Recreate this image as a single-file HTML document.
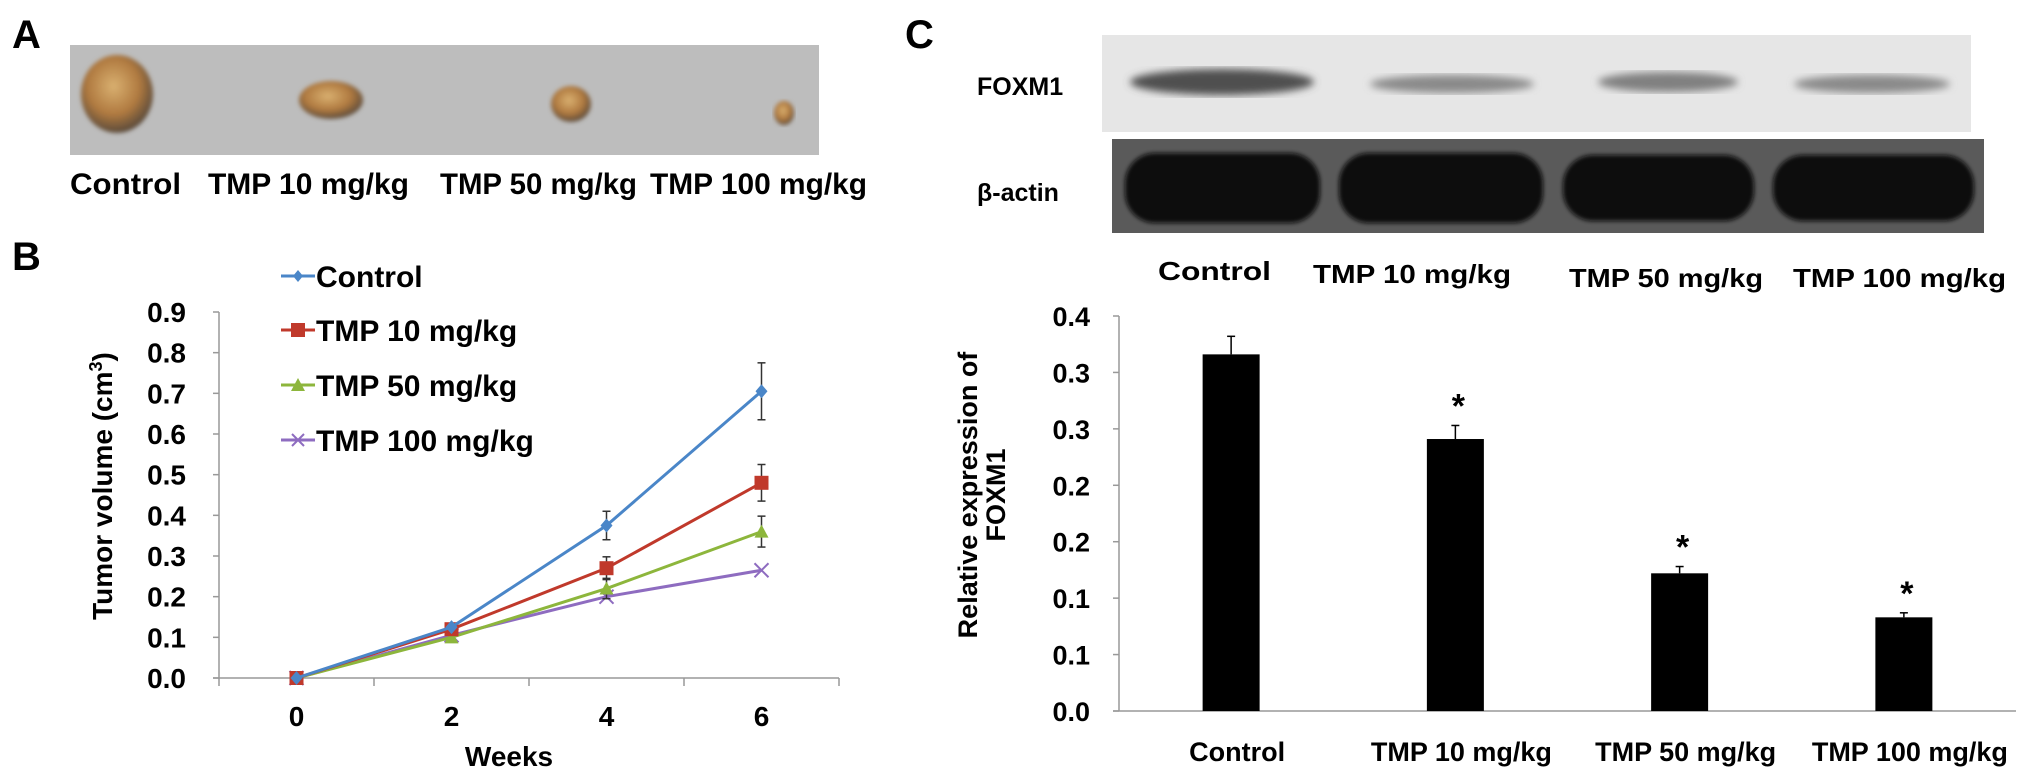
<!DOCTYPE html>
<html><head><meta charset="utf-8"><style>
html,body{margin:0;padding:0;background:#fff;}
svg{display:block;font-family:"Liberation Sans",Arial,sans-serif;font-weight:bold;}
</style></head><body>
<svg id="fig" width="2031" height="780" viewBox="0 0 2031 780" xmlns="http://www.w3.org/2000/svg">
<defs>
<radialGradient id="tum" cx="45%" cy="40%" r="60%"><stop offset="0" stop-color="#d9b070"/><stop offset="0.6" stop-color="#b07a40"/><stop offset="1" stop-color="#5a4a3a"/></radialGradient>
<filter id="blur"><feGaussianBlur stdDeviation="4"/></filter>
<filter id="blur2"><feGaussianBlur stdDeviation="2"/></filter>
</defs>
<!-- Panel A -->
<text x="12" y="48" font-size="40">A</text>
<g>
<rect x="70" y="45" width="749" height="110" fill="#bdbdbd"/>
<ellipse cx="117" cy="94" rx="36" ry="39" fill="url(#tum)" filter="url(#blur2)"/>
<ellipse cx="331" cy="100" rx="32" ry="19" fill="url(#tum)" filter="url(#blur2)"/>
<ellipse cx="571" cy="104" rx="20" ry="18" fill="url(#tum)" filter="url(#blur2)"/>
<ellipse cx="784" cy="113" rx="10" ry="12" fill="url(#tum)" filter="url(#blur2)"/>
</g>
<g font-size="30">
<text x="70" y="194" textLength="111" lengthAdjust="spacingAndGlyphs">Control</text>
<text x="208" y="194" textLength="201" lengthAdjust="spacingAndGlyphs">TMP 10 mg/kg</text>
<text x="440" y="194" textLength="197" lengthAdjust="spacingAndGlyphs">TMP 50 mg/kg</text>
<text x="650" y="194" textLength="217" lengthAdjust="spacingAndGlyphs">TMP 100 mg/kg</text>
</g>
<!-- Panel B -->
<text x="12" y="270" font-size="40">B</text>
<g id="lineChart"></g>
<!-- Panel C -->
<text x="905" y="48" font-size="40">C</text>
<text x="977" y="95" font-size="25">FOXM1</text>
<text x="977" y="201" font-size="25">β-actin</text>
<g>
<rect x="1102" y="35" width="869" height="97" fill="#e6e6e6"/>
<ellipse cx="1222" cy="82" rx="92" ry="13" fill="#505050" filter="url(#blur)"/>
<ellipse cx="1452" cy="84" rx="82" ry="9" fill="#8a8a8a" filter="url(#blur)"/>
<ellipse cx="1668" cy="82" rx="70" ry="10" fill="#808080" filter="url(#blur)"/>
<ellipse cx="1872" cy="84" rx="78" ry="9" fill="#8a8a8a" filter="url(#blur)"/>
</g>
<g>
<rect x="1112" y="139" width="872" height="94" fill="#5a5a5a"/>
<rect x="1125" y="153" width="195" height="70" rx="30" fill="#0a0a0a" filter="url(#blur2)"/>
<rect x="1339" y="153" width="204" height="70" rx="30" fill="#0a0a0a" filter="url(#blur2)"/>
<rect x="1563" y="155" width="191" height="66" rx="30" fill="#0a0a0a" filter="url(#blur2)"/>
<rect x="1773" y="155" width="201" height="66" rx="30" fill="#0a0a0a" filter="url(#blur2)"/>
</g>
<g font-size="26">
<text x="1158" y="280" textLength="113" lengthAdjust="spacingAndGlyphs">Control</text>
<text x="1313" y="283" textLength="198" lengthAdjust="spacingAndGlyphs">TMP 10 mg/kg</text>
<text x="1569" y="287" textLength="194" lengthAdjust="spacingAndGlyphs">TMP 50 mg/kg</text>
<text x="1793" y="287" textLength="213" lengthAdjust="spacingAndGlyphs">TMP 100 mg/kg</text>
</g>
<g id="barChart"></g>
</svg>
<script>
// ---- Line chart data (panel B) ----
const weeks = ["0", "2", "4", "6"];
const yTicksB = ["0.0","0.1","0.2","0.3","0.4","0.5","0.6","0.7","0.8","0.9"];
const seriesNames = ["Control", "TMP 10 mg/kg", "TMP 50 mg/kg", "TMP 100 mg/kg"];
const controlVals = [0, 0.125, 0.375, 0.705];
const tmp10Vals = [0, 0.12, 0.27, 0.48];
const tmp50Vals = [0, 0.10, 0.22, 0.36];
const tmp100Vals = [0, 0.105, 0.20, 0.265];
const controlErr = [0, 0.005, 0.035, 0.07];
const tmp10Err = [0, 0.005, 0.028, 0.045];
const tmp50Err = [0, 0.004, 0.025, 0.038];
const tmp100Err = [0, 0, 0, 0];

// ---- Bar chart data (panel C) ----
const barCats = ["Control", "TMP 10 mg/kg", "TMP 50 mg/kg", "TMP 100 mg/kg"];
const barVals = [0.316, 0.241, 0.122, 0.083];
const barErr = [0.016, 0.012, 0.006, 0.004];
const barSig = [false, true, true, true];
const yTickValsC = [0, 0.05, 0.1, 0.15, 0.2, 0.25, 0.3, 0.35];
const yTickLabelsC = ["0.0","0.1","0.1","0.2","0.2","0.3","0.3","0.4"];

const NS = "http://www.w3.org/2000/svg";
function mk(parent, tag, attrs, text) {
  const e = document.createElementNS(NS, tag);
  for (const k in attrs) e.setAttribute(k, attrs[k]);
  if (text !== undefined) e.textContent = text;
  parent.appendChild(e);
  return e;
}

// Panel B
(function () {
  const g = document.getElementById("lineChart");
  const x0 = 219, x1 = 839, yBase = 678, yTop = 312;
  const yMax = 0.9;
  const ys = v => yBase - v / yMax * (yBase - yTop);
  const bw = (x1 - x0) / weeks.length;
  const xs = i => x0 + bw * (i + 0.5);
  const ax = mk(g, "line", { x1: x0, y1: yTop, x2: x0, y2: yBase, stroke: "#999", "stroke-width": 1.5 });
  
  
  const axx = mk(g, "line", { x1: x0 - 6, y1: yBase, x2: x1, y2: yBase, stroke: "#999", "stroke-width": 1.5 });
  
  
  yTicksB.forEach((t, i) => {
    const y = ys(parseFloat(t));
    mk(g, "line", { x1: x0 - 6, y1: y, x2: x0, y2: y, stroke: "#999", "stroke-width": 1.5 });
    const lb = mk(g, "text", { x: 186, y: y + 10, "font-size": 28, "text-anchor": "end" }, t);
    
    
  });
  for (let i = 0; i <= weeks.length; i++) {
    const x = x0 + bw * i;
    mk(g, "line", { x1: x, y1: yBase, x2: x, y2: yBase + 8, stroke: "#999", "stroke-width": 1.5 });
  }
  weeks.forEach((w, i) => {
    const lb = mk(g, "text", { x: xs(i), y: 726, "font-size": 28, "text-anchor": "middle" }, w);
    
    
  });
  const xt = mk(g, "text", { x: 509, y: 766, "font-size": 28, "text-anchor": "middle" }, "Weeks");
  
  
  const yt = mk(g, "text", { transform: "translate(112,486) rotate(-90)", "font-size": 28, "text-anchor": "middle" });
  
  
  yt.innerHTML = 'Tumor  volume (cm<tspan dy="-10" font-size="18">3</tspan><tspan dy="10">)</tspan>';

  const allVals = [controlVals, tmp10Vals, tmp50Vals, tmp100Vals];
  const allErr = [controlErr, tmp10Err, tmp50Err, tmp100Err];
  const colors = ["#4a86c8", "#c0392b", "#8db63c", "#8e6cc0"];
  const order = [3, 2, 1, 0];
  order.forEach(s => {
    const vals = allVals[s], errs = allErr[s], c = colors[s];
    const pl = mk(g, "polyline", { points: vals.map((v, i) => xs(i) + "," + ys(v)).join(" "), fill: "none", stroke: c, "stroke-width": 3 });
    
    
    vals.forEach((v, i) => {
      const x = xs(i), y = ys(v), e = errs[i];
      if (e > 0.006) {
        mk(g, "line", { x1: x, y1: ys(v + e), x2: x, y2: ys(v - e), stroke: "#333", "stroke-width": 1.5 });
        mk(g, "line", { x1: x - 4, y1: ys(v + e), x2: x + 4, y2: ys(v + e), stroke: "#333", "stroke-width": 1.5 });
        mk(g, "line", { x1: x - 4, y1: ys(v - e), x2: x + 4, y2: ys(v - e), stroke: "#333", "stroke-width": 1.5 });
      }
      let m;
      if (s === 0) m = mk(g, "polygon", { points: `${x},${y-7} ${x+6},${y} ${x},${y+7} ${x-6},${y}`, fill: c });
      else if (s === 1) m = mk(g, "rect", { x: x - 7, y: y - 7, width: 14, height: 14, fill: c });
      else if (s === 2) m = mk(g, "polygon", { points: `${x},${y-7} ${x+7},${y+6} ${x-7},${y+6}`, fill: c });
      else m = mk(g, "path", { d: `M${x-7},${y-7}L${x+7},${y+7}M${x+7},${y-7}L${x-7},${y+7}`, stroke: c, "stroke-width": 2 });
      
      
    });
  });
  // legend
  const legY = [276, 330, 385, 440];
  seriesNames.forEach((n, s) => {
    const y = legY[s], c = colors[s], x = 298;
    mk(g, "line", { x1: 281, y1: y, x2: 315, y2: y, stroke: c, "stroke-width": 3 });
    if (s === 0) mk(g, "polygon", { points: `${x},${y-6} ${x+5},${y} ${x},${y+6} ${x-5},${y}`, fill: c });
    else if (s === 1) mk(g, "rect", { x: x - 7, y: y - 7, width: 14, height: 14, fill: c });
    else if (s === 2) mk(g, "polygon", { points: `${x},${y-7} ${x+7},${y+6} ${x-7},${y+6}`, fill: c });
    else mk(g, "path", { d: `M${x-6},${y-6}L${x+6},${y+6}M${x+6},${y-6}L${x-6},${y+6}`, stroke: c, "stroke-width": 2 });
    const t = mk(g, "text", { x: 316, y: y + 11, "font-size": 30 }, n);
    
    
  });
})();

// Panel C bar chart
(function () {
  const g = document.getElementById("barChart");
  const x0 = 1119, x1 = 2016, yBase = 711, yTop = 316, yMax = 0.35;
  const ys = v => yBase - v / yMax * (yBase - yTop);
  const bw = (x1 - x0) / barCats.length;
  const xs = i => x0 + bw * (i + 0.5);
  const ay = mk(g, "line", { x1: x0, y1: yTop, x2: x0, y2: yBase, stroke: "#999", "stroke-width": 1.5 });
  
  
  const axx = mk(g, "line", { x1: x0 - 6, y1: yBase, x2: x1, y2: yBase, stroke: "#999", "stroke-width": 1.5 });
  
  
  yTickValsC.forEach((v, i) => {
    const y = ys(v);
    mk(g, "line", { x1: x0 - 6, y1: y, x2: x0, y2: y, stroke: "#999", "stroke-width": 1.5 });
    const lb = mk(g, "text", { x: 1090, y: y + 10, "font-size": 27, "text-anchor": "end" }, yTickLabelsC[i]);
    
    
  });
  barCats.forEach((c, i) => {
    const x = xs(i), v = barVals[i], e = barErr[i];
    const r = mk(g, "rect", { x: x - 28.5, y: ys(v), width: 57, height: yBase - ys(v), fill: "#000" });
    
    
    mk(g, "line", { x1: x, y1: ys(v), x2: x, y2: ys(v + e), stroke: "#000", "stroke-width": 1.5 });
    mk(g, "line", { x1: x - 4, y1: ys(v + e), x2: x + 4, y2: ys(v + e), stroke: "#000", "stroke-width": 1.5 });
    if (barSig[i]) {
      const s = mk(g, "text", { x: x + 3, y: ys(v + e) - 8, "font-size": 34, "text-anchor": "middle" }, "*");
      
      
    }
    const lb = mk(g, "text", { x: x + 6, y: 761, "font-size": 27, "text-anchor": "middle" }, c);
    
    
  });
  const yt = mk(g, "text", { transform: "translate(977,495) rotate(-90)", "font-size": 27, "text-anchor": "middle" }, "Relative expression of");
  
  
  const yt2 = mk(g, "text", { transform: "translate(1005,495) rotate(-90)", "font-size": 27, "text-anchor": "middle" }, "FOXM1");
  
  
})();
</script>
</body></html>
